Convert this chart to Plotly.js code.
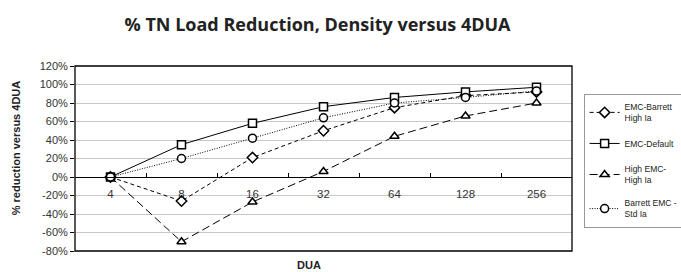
<!DOCTYPE html>
<html>
<head>
<meta charset="utf-8">
<script src="https://cdn.plot.ly/plotly-3.0.1.min.js"></script>
<style>html,body{margin:0;padding:0;background:#fff;}#chart{width:681px;height:272px;}</style>
</head>
<body>
<div id="chart"></div>
<script>
const categories = ['4', '8', '16', '32', '64', '128', '256'];
const seriesNames = ['EMC-Barrett<br>High Ia', 'EMC-Default', 'High EMC-<br>High Ia', 'Barrett EMC -<br>Std Ia'];
const emcBarrettHighIa = [0, -26, 21, 50, 75, 88, 92];
const emcDefault = [0, 35, 58, 76, 86, 92, 97];
const highEmcHighIa = [0, -70, -27, 6, 44, 66, 80];
const barrettEmcStdIa = [0, 20, 42, 64, 80, 86, 93];
const yTickVals = [-80, -60, -40, -20, 0, 20, 40, 60, 80, 100, 120];
const yTickText = yTickVals.map(v => v + '%');

const font = 'Liberation Sans, Arial, sans-serif';
function tr(name, y, dash, symbol, width) {
  return {
    type: 'scatter', mode: 'lines+markers', name: name, x: categories, y: y,
    legendgroup: name,
    line: {color: '#000', width: width, dash: dash},
    marker: {symbol: symbol, size: 8, color: '#fff', line: {color: '#000', width: 1.5}}
  };
}
const data = [
  tr(seriesNames[0], emcBarrettHighIa, '4px,3px', 'diamond', 1),
  tr(seriesNames[1], emcDefault, 'solid', 'square', 1),
  tr(seriesNames[2], highEmcHighIa, '8px,4px', 'triangle-up', 1),
  tr(seriesNames[3], barrettEmcStdIa, '1px,1.5px', 'circle', 1)
];
const layout = {
  width: 681, height: 272,
  margin: {l: 75, r: 109, t: 66, b: 21, autoexpand: false},
  paper_bgcolor: '#fff', plot_bgcolor: '#fff',
  font: {family: font, size: 11, color: '#222'},
  title: {text: '% TN Load Reduction, Density versus 4DUA', font: {family: 'Open Sans, sans-serif', size: 18, color: '#222', weight: 'bold'},
          xref: 'paper', x: 0.488, xanchor: 'center', yref: 'container', y: 0.908, yanchor: 'middle'},
  xaxis: {type: 'category', categoryorder: 'array', categoryarray: categories, range: [-0.5, 6.5],
          anchor: 'free', position: 0.4, showline: true, linecolor: '#000', linewidth: 1,
          ticks: 'inside', tickson: 'boundaries', ticklen: 4, tickcolor: '#000',
          showgrid: false, zeroline: false, ticklabelstandoff: 6,
          tickfont: {family: font, size: 11.5, color: '#333'}},
  yaxis: {range: [-80, 120], tickvals: yTickVals, ticktext: yTickText, showgrid: true, gridcolor: '#c8c8c8', gridwidth: 1,
          zeroline: false, ticks: 'outside', ticklen: 4, tickcolor: '#000', showline: false,
          tickfont: {family: font, size: 11, color: '#333'}},
  showlegend: true,
  legend: {xref: 'container', x: 0.857, xanchor: 'left', yref: 'container', y: 0.655, yanchor: 'top',
           bordercolor: '#999', borderwidth: 1,
           font: {family: font, size: 8.5, color: '#222'}, tracegroupgap: 9, itemwidth: 30},
  shapes: [{type: 'rect', xref: 'paper', yref: 'paper', x0: 0, x1: 1, y0: 0, y1: 1, line: {color: '#000', width: 1.3}}],
  annotations: [
    {text: '% reduction versus 4DUA', xref: 'paper', yref: 'paper', x: -0.117, y: 0.56, textangle: -90, showarrow: false,
     font: {family: font, size: 11, color: '#222', weight: 'bold'}, xanchor: 'center', yanchor: 'middle'},
    {text: 'DUA', xref: 'paper', yref: 'paper', x: 0.471, y: -0.076, showarrow: false,
     font: {family: font, size: 11, color: '#222', weight: 'bold'}, xanchor: 'center', yanchor: 'middle'}
  ]
};
Plotly.newPlot('chart', data, layout, {displayModeBar: false});
</script>
</body>
</html>
